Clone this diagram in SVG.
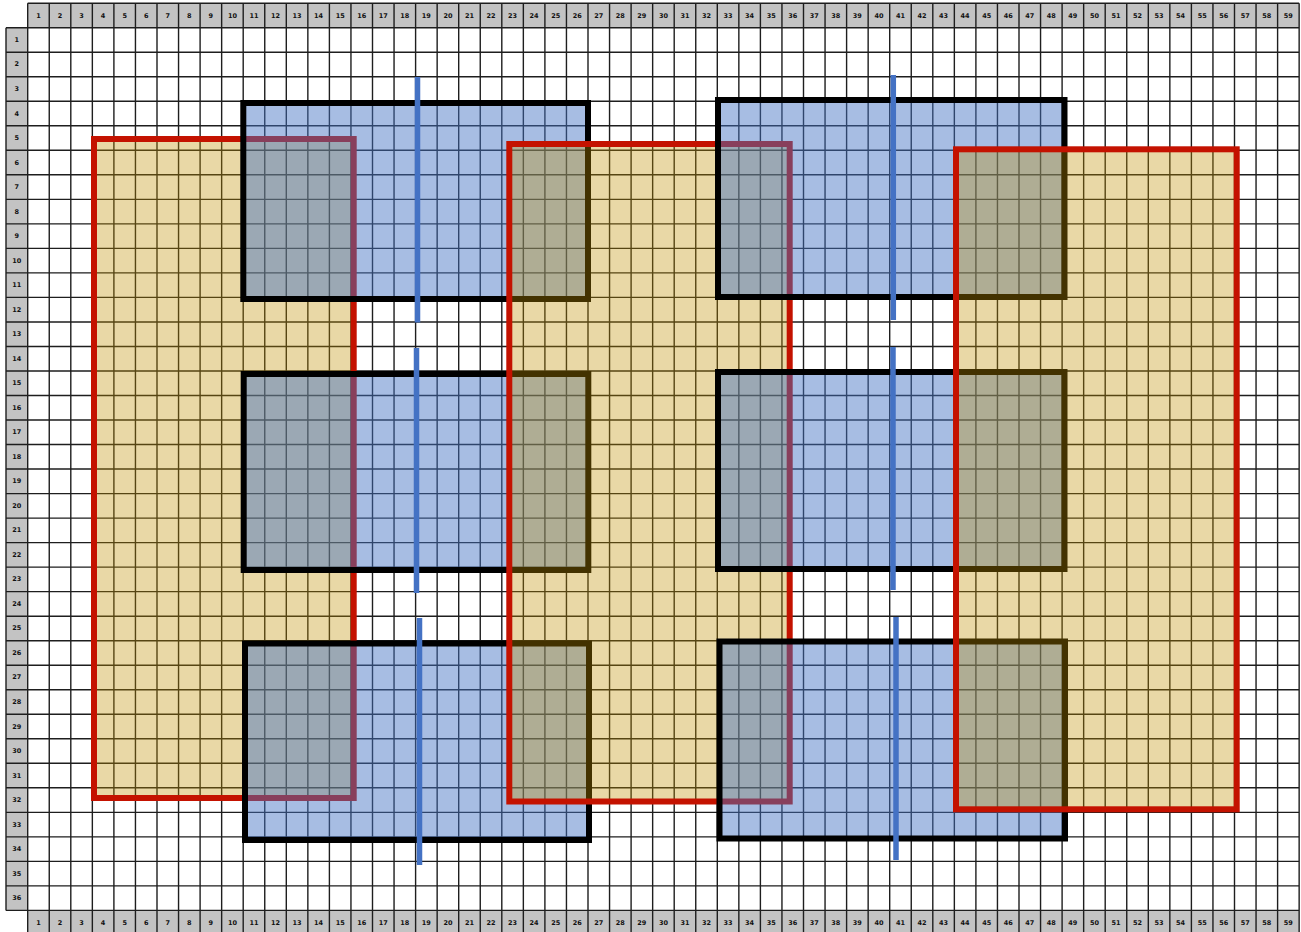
<svg xmlns="http://www.w3.org/2000/svg" xmlns:xlink="http://www.w3.org/1999/xlink" width="1301" height="932" viewBox="0 0 1301 932">
<style>
.hdr{fill:#c3c3c3}
.grid{fill:none;stroke:#1e1e1e;stroke-width:1.4}
.lbl{font-family:"DejaVu Sans",sans-serif;font-weight:bold;font-size:6.5px;fill:#111;text-anchor:middle;dominant-baseline:central}
.zone-fill{fill:#bf9000;fill-opacity:0.35}
.zone{fill:none;stroke:#c41200;stroke-width:6}
.blk-fill{fill:#4472c4;fill-opacity:0.47}
.blk{fill:none;stroke:#000;stroke-width:6}
.axis{stroke:#4472c4;stroke-width:5.5;fill:none}
</style>
<rect x="0" y="0" width="1301" height="932" fill="#fff"/>
<g id="headers">
<rect class="hdr" x="27.7" y="3.3" width="1271.45" height="24.4"/>
<rect class="hdr" x="6" y="27.7" width="21.7" height="882.72"/>
<rect class="hdr" x="27.7" y="910.42" width="1271.45" height="30"/>
</g>
<path id="gridlines" class="grid" d="M27.7 3.3H1299.15M6 27.7V910.42
M27.7 3.3V932M49.25 3.3V932M70.8 3.3V932M92.35 3.3V932M113.9 3.3V932M135.45 3.3V932M157 3.3V932M178.55 3.3V932M200.1 3.3V932M221.65 3.3V932
M243.2 3.3V932M264.75 3.3V932M286.3 3.3V932M307.85 3.3V932M329.4 3.3V932M350.95 3.3V932M372.5 3.3V932M394.05 3.3V932M415.6 3.3V932M437.15 3.3V932
M458.7 3.3V932M480.25 3.3V932M501.8 3.3V932M523.35 3.3V932M544.9 3.3V932M566.45 3.3V932M588 3.3V932M609.55 3.3V932M631.1 3.3V932M652.65 3.3V932
M674.2 3.3V932M695.75 3.3V932M717.3 3.3V932M738.85 3.3V932M760.4 3.3V932M781.95 3.3V932M803.5 3.3V932M825.05 3.3V932M846.6 3.3V932M868.15 3.3V932
M889.7 3.3V932M911.25 3.3V932M932.8 3.3V932M954.35 3.3V932M975.9 3.3V932M997.45 3.3V932M1019 3.3V932M1040.55 3.3V932M1062.1 3.3V932M1083.65 3.3V932
M1105.2 3.3V932M1126.75 3.3V932M1148.3 3.3V932M1169.85 3.3V932M1191.4 3.3V932M1212.95 3.3V932M1234.5 3.3V932M1256.05 3.3V932M1277.6 3.3V932M1299.15 3.3V932
M6 27.7H1299.15M6 52.22H1299.15M6 76.74H1299.15M6 101.26H1299.15M6 125.78H1299.15M6 150.3H1299.15M6 174.82H1299.15M6 199.34H1299.15M6 223.86H1299.15M6 248.38H1299.15
M6 272.9H1299.15M6 297.42H1299.15M6 321.94H1299.15M6 346.46H1299.15M6 370.98H1299.15M6 395.5H1299.15M6 420.02H1299.15M6 444.54H1299.15M6 469.06H1299.15M6 493.58H1299.15
M6 518.1H1299.15M6 542.62H1299.15M6 567.14H1299.15M6 591.66H1299.15M6 616.18H1299.15M6 640.7H1299.15M6 665.22H1299.15M6 689.74H1299.15M6 714.26H1299.15M6 738.78H1299.15
M6 763.3H1299.15M6 787.82H1299.15M6 812.34H1299.15M6 836.86H1299.15M6 861.38H1299.15M6 885.9H1299.15M6 910.42H1299.15"/>
<g id="colLabels" class="lbl">
<text x="38.48" y="15.5">1</text><text x="60.03" y="15.5">2</text><text x="81.58" y="15.5">3</text><text x="103.13" y="15.5">4</text><text x="124.68" y="15.5">5</text><text x="146.23" y="15.5">6</text><text x="167.78" y="15.5">7</text><text x="189.33" y="15.5">8</text><text x="210.88" y="15.5">9</text><text x="232.43" y="15.5">10</text>
<text x="253.98" y="15.5">11</text><text x="275.53" y="15.5">12</text><text x="297.08" y="15.5">13</text><text x="318.63" y="15.5">14</text><text x="340.18" y="15.5">15</text><text x="361.73" y="15.5">16</text><text x="383.28" y="15.5">17</text><text x="404.83" y="15.5">18</text><text x="426.38" y="15.5">19</text><text x="447.93" y="15.5">20</text>
<text x="469.48" y="15.5">21</text><text x="491.03" y="15.5">22</text><text x="512.58" y="15.5">23</text><text x="534.13" y="15.5">24</text><text x="555.68" y="15.5">25</text><text x="577.23" y="15.5">26</text><text x="598.78" y="15.5">27</text><text x="620.33" y="15.5">28</text><text x="641.88" y="15.5">29</text><text x="663.43" y="15.5">30</text>
<text x="684.98" y="15.5">31</text><text x="706.53" y="15.5">32</text><text x="728.08" y="15.5">33</text><text x="749.63" y="15.5">34</text><text x="771.18" y="15.5">35</text><text x="792.73" y="15.5">36</text><text x="814.28" y="15.5">37</text><text x="835.83" y="15.5">38</text><text x="857.38" y="15.5">39</text><text x="878.93" y="15.5">40</text>
<text x="900.48" y="15.5">41</text><text x="922.03" y="15.5">42</text><text x="943.58" y="15.5">43</text><text x="965.13" y="15.5">44</text><text x="986.68" y="15.5">45</text><text x="1008.23" y="15.5">46</text><text x="1029.78" y="15.5">47</text><text x="1051.33" y="15.5">48</text><text x="1072.88" y="15.5">49</text><text x="1094.43" y="15.5">50</text>
<text x="1115.98" y="15.5">51</text><text x="1137.53" y="15.5">52</text><text x="1159.08" y="15.5">53</text><text x="1180.63" y="15.5">54</text><text x="1202.18" y="15.5">55</text><text x="1223.73" y="15.5">56</text><text x="1245.28" y="15.5">57</text><text x="1266.83" y="15.5">58</text><text x="1288.38" y="15.5">59</text>
</g>
<use id="colLabelsBottom" xlink:href="#colLabels" href="#colLabels" x="0" y="907"/>
<g id="rowLabels" class="lbl">
<text x="16.85" y="39.96">1</text><text x="16.85" y="64.48">2</text><text x="16.85" y="89">3</text><text x="16.85" y="113.52">4</text><text x="16.85" y="138.04">5</text><text x="16.85" y="162.56">6</text><text x="16.85" y="187.08">7</text><text x="16.85" y="211.6">8</text><text x="16.85" y="236.12">9</text>
<text x="16.85" y="260.64">10</text><text x="16.85" y="285.16">11</text><text x="16.85" y="309.68">12</text><text x="16.85" y="334.2">13</text><text x="16.85" y="358.72">14</text><text x="16.85" y="383.24">15</text><text x="16.85" y="407.76">16</text><text x="16.85" y="432.28">17</text><text x="16.85" y="456.8">18</text>
<text x="16.85" y="481.32">19</text><text x="16.85" y="505.84">20</text><text x="16.85" y="530.36">21</text><text x="16.85" y="554.88">22</text><text x="16.85" y="579.4">23</text><text x="16.85" y="603.92">24</text><text x="16.85" y="628.44">25</text><text x="16.85" y="652.96">26</text><text x="16.85" y="677.48">27</text>
<text x="16.85" y="702">28</text><text x="16.85" y="726.52">29</text><text x="16.85" y="751.04">30</text><text x="16.85" y="775.56">31</text><text x="16.85" y="800.08">32</text><text x="16.85" y="824.6">33</text><text x="16.85" y="849.12">34</text><text x="16.85" y="873.64">35</text><text x="16.85" y="898.16">36</text>
</g>
<g id="zone-left">
<rect class="zone-fill" x="94" y="139" width="259.7" height="659"/>
<rect class="zone" x="94" y="139" width="259.7" height="659"/>
</g>
<g id="block-left-1"><rect class="blk-fill" x="243.3" y="103" width="344.7" height="196"/><rect class="blk" x="243.3" y="103" width="344.7" height="196"/></g>
<g id="block-left-2"><rect class="blk-fill" x="243.7" y="374" width="344.6" height="196"/><rect class="blk" x="243.7" y="374" width="344.6" height="196"/></g>
<g id="block-left-3"><rect class="blk-fill" x="245" y="643.5" width="344" height="196.5"/><rect class="blk" x="245" y="643.5" width="344" height="196.5"/></g>
<g id="zone-middle">
<rect class="zone-fill" x="509.3" y="144" width="280.4" height="657.5"/>
<rect class="zone" x="509.3" y="144" width="280.4" height="657.5"/>
</g>
<g id="block-right-1"><rect class="blk-fill" x="718" y="100" width="346.5" height="197"/><rect class="blk" x="718" y="100" width="346.5" height="197"/></g>
<g id="block-right-2"><rect class="blk-fill" x="718" y="372" width="346.5" height="197"/><rect class="blk" x="718" y="372" width="346.5" height="197"/></g>
<g id="block-right-3"><rect class="blk-fill" x="719.5" y="641.5" width="345.5" height="197"/><rect class="blk" x="719.5" y="641.5" width="345.5" height="197"/></g>
<g id="zone-right">
<rect class="zone-fill" x="956" y="149.3" width="280.7" height="660"/>
<rect class="zone" x="956" y="149.3" width="280.7" height="660"/>
</g>
<g id="connectors">
<line id="axis-l1" class="axis" x1="417.5" y1="77" x2="417.5" y2="322.5"/>
<line id="axis-l2" class="axis" x1="416.5" y1="348" x2="416.5" y2="593"/>
<line id="axis-l3" class="axis" x1="419.5" y1="618" x2="419.5" y2="865"/>
<line id="axis-r1" class="axis" x1="893.3" y1="75" x2="893.3" y2="320"/>
<line id="axis-r2" class="axis" x1="893" y1="347" x2="893" y2="590"/>
<line id="axis-r3" class="axis" x1="896" y1="617" x2="896" y2="860"/>
</g>
</svg>
